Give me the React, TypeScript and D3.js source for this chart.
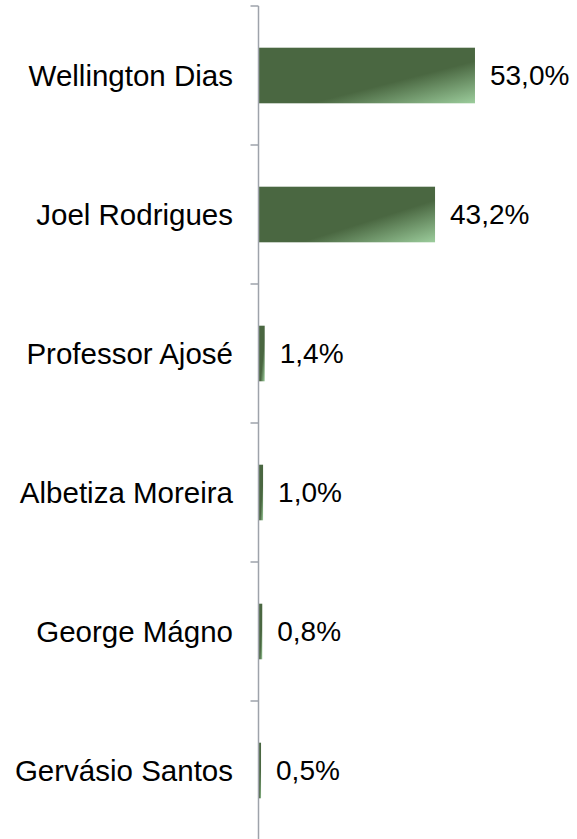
import * as d3 from "d3";

const candidates = [
  "Wellington Dias",
  "Joel Rodrigues",
  "Professor Ajosé",
  "Albetiza Moreira",
  "George Mágno",
  "Gervásio Santos",
];
const votes = [53.0, 43.2, 1.4, 1.0, 0.8, 0.5];

export default function App() {
  const width = 577;
  const height = 839;
  const axisX = 258.5;

  const y = d3.scaleBand<string>()
    .domain(candidates)
    .range([6, 840])
    .paddingInner(0.6)
    .paddingOuter(0.3);

  const x = d3.scaleLinear()
    .domain([0, 60])
    .range([259, 503.5]);

  const fmt = (v: number) => v.toFixed(1).replace(".", ",") + "%";
  const step = y.step();
  const top = 6;
  const ticks = d3.range(candidates.length + 1).map(i => top + i * step);

  return (
    <svg width={width} height={height} style={{ position: "absolute", left: 0, top: 0 }}
      fontFamily="Liberation Sans, Arial, sans-serif">
      <defs>
        <linearGradient id="barGrad" x1="0" y1="0" x2="1" y2="1">
          <stop offset="0" stopColor="#4a6741" />
          <stop offset="0.62" stopColor="#4a6741" />
          <stop offset="1" stopColor="#9ccd9c" />
        </linearGradient>
      </defs>
      {/* barras */}
      {candidates.map((c, i) => (
        <rect key={c}
          x={x(0)}
          y={y(c)}
          width={x(votes[i]) - x(0)}
          height={y.bandwidth()}
          fill="url(#barGrad)" />
      ))}
      {/* eixo */}
      <line x1={axisX} x2={axisX} y1={top} y2={height + 2} stroke="#9ea3ab" strokeWidth={1.5} />
      {ticks.map((t, i) => (
        <line key={i} x1={axisX - 8} x2={axisX} y1={t} y2={t} stroke="#9ea3ab" strokeWidth={1.5} />
      ))}
      {/* rótulos */}
      {candidates.map(c => (
        <text key={c} x={233} y={(y(c) ?? 0) + y.bandwidth() / 2} dy="0.35em"
          textAnchor="end" fontSize={29.5} fill="#000">{c}</text>
      ))}
      {candidates.map((c, i) => (
        <text key={c + "v"} x={x(votes[i]) + 15} y={(y(c) ?? 0) + y.bandwidth() / 2} dy="0.35em"
          fontSize={28} fill="#000">{fmt(votes[i])}</text>
      ))}
    </svg>
  );
}
